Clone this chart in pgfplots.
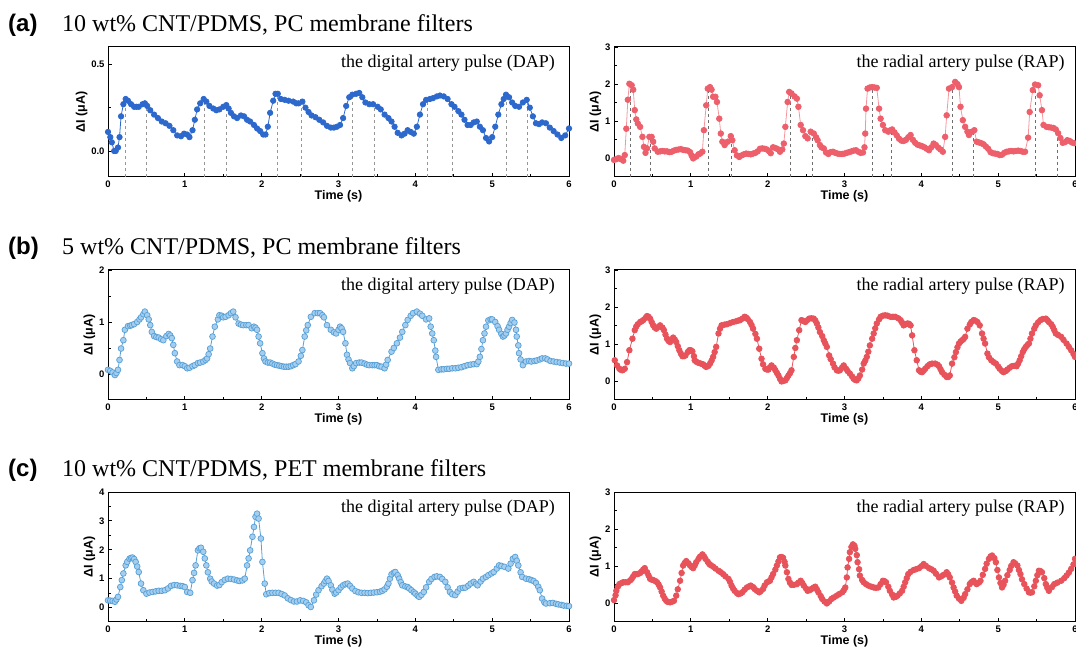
\documentclass[border=0pt]{standalone}
\usepackage{fontspec}
\setmainfont{Liberation Serif}
\newfontfamily\arial{Liberation Sans}
\usepackage{pgfplots}
\pgfplotsset{compat=1.18}

\definecolor{blueA}{RGB}{45,105,205}
\definecolor{redA}{RGB}{238,95,108}
\definecolor{redAline}{RGB}{245,150,158}
\definecolor{lblue}{RGB}{85,160,215}
\definecolor{lbluefill}{RGB}{165,205,238}
\definecolor{redB}{RGB}{232,82,90}
\definecolor{dashA}{RGB}{150,150,150}
\definecolor{dashB}{RGB}{110,110,110}

\tikzset{note/.style={anchor=base east, inner sep=0pt, font=\fontsize{18}{18}\selectfont}}
\pgfplotsset{panel/.style={
  scale only axis, width=461pt, height=130pt, anchor=south west,
  xmin=0, xmax=6, xtick={0,1,...,6}, minor x tick num=1, minor y tick num=1,
  tick align=inside, tick pos=left,
  axis line style={line width=1pt},
  every tick/.style={black, line width=0.8pt},
  major tick length=4pt, minor tick length=2.5pt,
  /pgf/number format/assume math mode=true,
  tick label style={font=\arial\bfseries\fontsize{9.5}{10}\selectfont},
  label style={font=\arial\bfseries\fontsize{12.5}{13}\selectfont},
  xlabel={Time (s)}, ylabel={ΔI (μA)},
  xlabel style={yshift=4pt}, ylabel style={yshift=-3pt},
},
dap/.style={lblue, line width=0.8pt, mark=*, mark size=2.9pt,
  mark options={fill=lbluefill, draw=lblue, line width=0.7pt}},
rap/.style={redB, line width=0.8pt, mark=*, mark size=2.8pt,
  mark options={fill=redB, draw=redB}},
guide/.style={dashed, line width=0.7pt, unbounded coords=jump, forget plot}}

\begin{document}
\begin{tikzpicture}
\useasboundingbox (0pt,0pt) rectangle (1076pt,655pt);

% titles
\node[anchor=base west, inner sep=0pt, font=\arial\bfseries\fontsize{24}{24}\selectfont] at (8pt,623pt) {(a)};
\node[anchor=base west, inner sep=0pt, font=\fontsize{24}{24}\selectfont] at (62pt,623pt) {10 wt\% CNT/PDMS, PC membrane filters};
\node[anchor=base west, inner sep=0pt, font=\arial\bfseries\fontsize{24}{24}\selectfont] at (8pt,400pt) {(b)};
\node[anchor=base west, inner sep=0pt, font=\fontsize{24}{24}\selectfont] at (62pt,400pt) {5 wt\% CNT/PDMS, PC membrane filters};
\node[anchor=base west, inner sep=0pt, font=\arial\bfseries\fontsize{24}{24}\selectfont] at (8pt,178pt) {(c)};
\node[anchor=base west, inner sep=0pt, font=\fontsize{24}{24}\selectfont] at (62pt,178pt) {10 wt\% CNT/PDMS, PET membrane filters};

% (a) DAP
\begin{axis}[panel, at={(108pt,478pt)}, ymin=-0.15, ymax=0.6, ytick={0,0.5},
  yticklabel style={/pgf/number format/.cd, fixed, fixed zerofill, precision=1}]
\addplot[guide, dashA] coordinates {(0.23,-0.15) (0.23,0.30) (0.23,nan) (0.50,-0.15) (0.50,0.27) (0.50,nan)
 (1.26,-0.15) (1.26,0.30) (1.26,nan) (1.54,-0.15) (1.54,0.265) (1.54,nan)
 (2.21,-0.15) (2.21,0.33) (2.21,nan) (2.52,-0.15) (2.52,0.28) (2.52,nan)
 (3.18,-0.15) (3.18,0.325) (3.18,nan) (3.47,-0.15) (3.47,0.27) (3.47,nan)
 (4.16,-0.15) (4.16,0.30) (4.16,nan) (4.48,-0.15) (4.48,0.27) (4.48,nan)
 (5.19,-0.15) (5.19,0.325) (5.19,nan) (5.46,-0.15) (5.46,0.29)};
\addplot[blueA, line width=0.8pt, mark=*, mark size=2.7pt, mark options={fill=blueA, draw=blueA}] coordinates {
(0.00,0.11) (0.03,0.08) (0.05,0.05) (0.08,0.00) (0.10,0.00) (0.13,0.02) (0.15,0.08) (0.17,0.20)
(0.20,0.27) (0.23,0.30) (0.26,0.29) (0.30,0.27) (0.34,0.255) (0.37,0.255) (0.40,0.255) (0.45,0.27)
(0.48,0.275) (0.51,0.26) (0.55,0.235) (0.60,0.21) (0.65,0.19) (0.70,0.17) (0.75,0.16) (0.80,0.145)
(0.85,0.12) (0.90,0.09) (0.95,0.085) (0.99,0.10) (1.03,0.095) (1.06,0.08) (1.10,0.12) (1.13,0.18)
(1.16,0.24) (1.20,0.275) (1.245,0.30) (1.28,0.285) (1.32,0.26) (1.37,0.245) (1.41,0.235) (1.45,0.24)
(1.50,0.255) (1.54,0.265) (1.57,0.245) (1.60,0.22) (1.64,0.20) (1.68,0.19) (1.73,0.205) (1.77,0.20)
(1.81,0.18) (1.85,0.17) (1.90,0.15) (1.94,0.13) (1.98,0.115) (2.02,0.095) (2.05,0.095) (2.08,0.14)
(2.11,0.22) (2.15,0.29) (2.18,0.33) (2.21,0.33) (2.25,0.30) (2.30,0.295) (2.35,0.29) (2.41,0.285)
(2.45,0.275) (2.48,0.275) (2.53,0.285) (2.57,0.25) (2.61,0.225) (2.65,0.205) (2.70,0.195) (2.75,0.18)
(2.80,0.165) (2.85,0.145) (2.90,0.135) (2.94,0.135) (2.98,0.14) (3.02,0.15) (3.06,0.19) (3.10,0.26)
(3.14,0.31) (3.18,0.325) (3.23,0.33) (3.27,0.335) (3.31,0.31) (3.35,0.28) (3.40,0.27) (3.45,0.27)
(3.51,0.255) (3.55,0.24) (3.60,0.21) (3.65,0.19) (3.69,0.17) (3.73,0.14) (3.77,0.105) (3.82,0.09)
(3.86,0.10) (3.90,0.12) (3.94,0.11) (3.98,0.10) (4.02,0.14) (4.06,0.21) (4.10,0.27) (4.14,0.295)
(4.19,0.30) (4.23,0.305) (4.28,0.315) (4.32,0.32) (4.37,0.315) (4.42,0.30) (4.47,0.27) (4.51,0.255)
(4.56,0.23) (4.60,0.21) (4.64,0.18) (4.68,0.15) (4.72,0.15) (4.76,0.165) (4.80,0.17) (4.84,0.14)
(4.88,0.12) (4.92,0.075) (4.96,0.055) (5.00,0.08) (5.04,0.14) (5.08,0.21) (5.12,0.27) (5.15,0.30)
(5.18,0.325) (5.22,0.31) (5.26,0.28) (5.30,0.26) (5.35,0.255) (5.40,0.28) (5.45,0.295) (5.49,0.25)
(5.53,0.20) (5.57,0.16) (5.61,0.155) (5.65,0.165) (5.70,0.16) (5.75,0.135) (5.80,0.115) (5.85,0.095)
(5.90,0.075) (5.95,0.09) (6.00,0.13)};
\node[note] at (rel axis cs:0.97,0.84) {the digital artery pulse (DAP)};
\end{axis}

% (a) RAP
\begin{axis}[panel, at={(614pt,478pt)}, ymin=-0.5, ymax=3, ytick={0,1,2,3}]
\addplot[guide, dashB] coordinates {(0.21,-0.5) (0.21,2.0) (0.21,nan) (0.47,-0.5) (0.47,0.58) (0.47,nan)
 (1.23,-0.5) (1.23,1.9) (1.23,nan) (1.53,-0.5) (1.53,0.6) (1.53,nan)
 (2.29,-0.5) (2.29,1.79) (2.29,nan) (2.58,-0.5) (2.58,0.72) (2.58,nan)
 (3.36,-0.5) (3.36,1.92) (3.36,nan) (3.61,-0.5) (3.61,0.78) (3.61,nan)
 (4.40,-0.5) (4.40,1.92) (4.40,nan) (4.68,-0.5) (4.68,0.76) (4.68,nan)
 (5.48,-0.5) (5.48,1.99) (5.48,nan) (5.77,-0.5) (5.77,0.76)};
\addplot[redAline, line width=0.8pt, mark=*, mark size=2.8pt, mark options={fill=redA, draw=redA}] coordinates {
(0.00,-0.04) (0.03,-0.02) (0.06,0.01) (0.09,-0.02) (0.12,-0.06) (0.14,0.09) (0.16,0.80) (0.18,1.58)
(0.20,2.01) (0.23,1.97) (0.25,1.85) (0.27,1.30) (0.29,1.05) (0.31,0.94) (0.34,0.85) (0.37,0.58)
(0.39,0.31) (0.41,0.15) (0.43,0.27) (0.46,0.58) (0.49,0.58) (0.51,0.45) (0.53,0.27) (0.57,0.18)
(0.60,0.19) (0.63,0.20) (0.66,0.19) (0.69,0.19) (0.72,0.17) (0.75,0.18) (0.78,0.21) (0.81,0.23)
(0.84,0.24) (0.87,0.25) (0.90,0.23) (0.93,0.22) (0.96,0.21) (0.99,0.17) (1.01,0.08) (1.03,0.00)
(1.07,0.05) (1.10,0.11) (1.12,0.13) (1.15,0.18) (1.17,0.76) (1.20,1.43) (1.22,1.88) (1.25,1.92)
(1.27,1.85) (1.29,1.66) (1.32,1.66) (1.34,1.52) (1.37,1.07) (1.39,0.67) (1.41,0.45) (1.44,0.36)
(1.48,0.45) (1.52,0.60) (1.54,0.49) (1.57,0.22) (1.60,0.08) (1.63,0.04) (1.66,0.08) (1.69,0.11)
(1.72,0.13) (1.75,0.12) (1.78,0.11) (1.81,0.13) (1.84,0.15) (1.87,0.19) (1.90,0.26) (1.93,0.27)
(1.96,0.26) (1.99,0.24) (2.02,0.19) (2.04,0.14) (2.07,0.30) (2.10,0.28) (2.13,0.25) (2.16,0.18)
(2.19,0.24) (2.21,0.40) (2.23,0.85) (2.26,1.52) (2.28,1.79) (2.31,1.75) (2.35,1.67) (2.38,1.61)
(2.40,1.39) (2.43,0.90) (2.46,0.76) (2.49,0.60) (2.52,0.54) (2.56,0.72) (2.60,0.67) (2.63,0.57)
(2.65,0.49) (2.68,0.36) (2.70,0.30) (2.73,0.27) (2.76,0.16) (2.79,0.12) (2.82,0.17) (2.85,0.18)
(2.88,0.15) (2.91,0.13) (2.94,0.12) (2.97,0.12) (3.00,0.13) (3.03,0.15) (3.06,0.17) (3.09,0.19)
(3.12,0.21) (3.15,0.22) (3.18,0.18) (3.21,0.15) (3.24,0.16) (3.26,0.30) (3.27,0.67) (3.28,1.34)
(3.30,1.88) (3.33,1.91) (3.36,1.92) (3.39,1.91) (3.42,1.90) (3.45,1.34) (3.47,1.07) (3.50,0.90)
(3.53,0.76) (3.57,0.72) (3.60,0.76) (3.62,0.78) (3.65,0.70) (3.68,0.62) (3.71,0.53) (3.74,0.48)
(3.77,0.47) (3.80,0.50) (3.83,0.57) (3.86,0.63) (3.89,0.50) (3.92,0.42) (3.95,0.37) (3.98,0.35)
(4.01,0.33) (4.04,0.30) (4.07,0.26) (4.10,0.22) (4.13,0.30) (4.16,0.40) (4.19,0.36) (4.22,0.29)
(4.25,0.24) (4.28,0.18) (4.31,0.58) (4.33,1.16) (4.36,1.88) (4.40,1.92) (4.44,2.06) (4.47,2.00)
(4.49,1.92) (4.51,1.39) (4.54,1.03) (4.57,0.85) (4.60,0.72) (4.62,0.63) (4.66,0.72) (4.69,0.76)
(4.72,0.45) (4.75,0.43) (4.78,0.41) (4.81,0.38) (4.84,0.32) (4.87,0.26) (4.90,0.17) (4.93,0.14)
(4.96,0.13) (4.99,0.12) (5.02,0.09) (5.05,0.10) (5.08,0.15) (5.11,0.18) (5.14,0.19) (5.17,0.20)
(5.20,0.19) (5.23,0.20) (5.26,0.21) (5.29,0.20) (5.32,0.18) (5.35,0.18) (5.39,0.56) (5.41,1.25)
(5.45,1.84) (5.48,1.99) (5.52,1.97) (5.54,1.70) (5.57,1.30) (5.59,0.90) (5.63,0.85) (5.66,0.84)
(5.69,0.83) (5.72,0.82) (5.75,0.78) (5.78,0.68) (5.81,0.55) (5.84,0.42) (5.87,0.44) (5.90,0.49)
(5.93,0.47) (5.96,0.43) (5.99,0.41)};
\node[note] at (rel axis cs:0.978,0.84) {the radial artery pulse (RAP)};
\end{axis}

% (b) DAP
\begin{axis}[panel, at={(108pt,255pt)}, ymin=-0.5, ymax=2, ytick={0,1,2}]
\addplot[dap] coordinates {
(0.00,0.08) (0.03,0.06) (0.06,0.03) (0.09,-0.02) (0.11,0.02) (0.13,0.08) (0.15,0.27) (0.17,0.49)
(0.20,0.65) (0.22,0.85) (0.26,0.92) (0.29,0.93) (0.31,0.94) (0.34,0.96) (0.38,1.00) (0.41,1.05)
(0.43,1.09) (0.46,1.15) (0.48,1.20) (0.51,1.13) (0.53,1.05) (0.55,0.94) (0.57,0.81) (0.60,0.73)
(0.63,0.71) (0.66,0.70) (0.69,0.67) (0.72,0.65) (0.76,0.73) (0.79,0.77) (0.81,0.74) (0.83,0.69)
(0.85,0.56) (0.87,0.40) (0.90,0.24) (0.93,0.17) (0.97,0.17) (1.00,0.15) (1.03,0.11) (1.06,0.12)
(1.10,0.15) (1.13,0.17) (1.17,0.21) (1.20,0.22) (1.24,0.24) (1.27,0.27) (1.29,0.30) (1.31,0.38)
(1.33,0.49) (1.36,0.72) (1.39,0.91) (1.43,1.05) (1.45,1.13) (1.48,1.12) (1.50,1.09) (1.53,1.10)
(1.57,1.13) (1.60,1.17) (1.63,1.20) (1.66,1.09) (1.70,0.97) (1.73,0.95) (1.76,0.94) (1.80,0.94)
(1.83,0.94) (1.87,0.88) (1.90,0.91) (1.92,0.89) (1.94,0.85) (1.96,0.72) (1.98,0.59) (2.01,0.40)
(2.03,0.30) (2.05,0.24) (2.08,0.22) (2.11,0.22) (2.14,0.20) (2.17,0.18) (2.20,0.17) (2.23,0.16)
(2.26,0.15) (2.29,0.14) (2.32,0.14) (2.35,0.14) (2.38,0.15) (2.41,0.17) (2.44,0.19) (2.48,0.24)
(2.51,0.35) (2.53,0.46) (2.56,0.72) (2.58,0.84) (2.60,0.94) (2.64,1.10) (2.69,1.17) (2.73,1.17)
(2.76,1.17) (2.79,1.13) (2.81,1.09) (2.85,0.94) (2.90,0.85) (2.94,0.80) (2.97,0.78) (3.00,0.85)
(3.02,0.91) (3.04,0.88) (3.06,0.81) (3.09,0.59) (3.11,0.37) (3.13,0.28) (3.15,0.21) (3.18,0.11)
(3.20,0.15) (3.23,0.21) (3.27,0.22) (3.30,0.22) (3.34,0.20) (3.37,0.18) (3.40,0.17) (3.44,0.17)
(3.47,0.17) (3.50,0.17) (3.53,0.15) (3.56,0.14) (3.60,0.11) (3.62,0.18) (3.64,0.27) (3.69,0.43)
(3.72,0.50) (3.76,0.59) (3.80,0.70) (3.83,0.81) (3.87,0.94) (3.90,1.04) (3.94,1.12) (3.97,1.17)
(4.02,1.20) (4.06,1.16) (4.09,1.12) (4.14,1.05) (4.18,1.07) (4.20,0.91) (4.22,0.78) (4.24,0.65)
(4.26,0.45) (4.27,0.33) (4.30,0.08) (4.34,0.09) (4.37,0.09) (4.41,0.10) (4.44,0.10) (4.48,0.11)
(4.52,0.11) (4.56,0.12) (4.60,0.13) (4.64,0.15) (4.68,0.17) (4.72,0.18) (4.76,0.19) (4.80,0.19)
(4.82,0.24) (4.84,0.33) (4.86,0.48) (4.88,0.65) (4.90,0.78) (4.92,0.91) (4.95,1.03) (4.98,1.05)
(5.00,1.05) (5.04,1.00) (5.07,0.92) (5.09,0.85) (5.12,0.77) (5.14,0.72) (5.16,0.74) (5.18,0.78)
(5.20,0.85) (5.22,0.91) (5.24,0.98) (5.26,1.04) (5.29,0.99) (5.31,0.85) (5.32,0.72) (5.34,0.55)
(5.35,0.40) (5.37,0.28) (5.40,0.17) (5.44,0.24) (5.48,0.25) (5.51,0.24) (5.55,0.25) (5.58,0.26)
(5.62,0.28) (5.65,0.30) (5.69,0.30) (5.72,0.28) (5.76,0.25) (5.80,0.24) (5.84,0.23) (5.88,0.22)
(5.92,0.21) (5.96,0.20) (6.00,0.20)};
\node[note] at (rel axis cs:0.97,0.84) {the digital artery pulse (DAP)};
\end{axis}

% (b) RAP
\begin{axis}[panel, at={(614pt,255pt)}, ymin=-0.5, ymax=3, ytick={0,1,2,3}]
\addplot[rap] coordinates {
(0.01,0.57) (0.04,0.43) (0.07,0.34) (0.09,0.31) (0.11,0.30) (0.14,0.34) (0.17,0.52) (0.20,0.84) (0.24,1.15)
(0.27,1.38) (0.29,1.48) (0.31,1.54) (0.34,1.60) (0.36,1.62) (0.38,1.65) (0.41,1.71) (0.43,1.76) (0.45,1.74) (0.47,1.69) (0.49,1.60) (0.51,1.51) (0.53,1.45) (0.55,1.42)
(0.58,1.47) (0.60,1.51) (0.63,1.45) (0.65,1.38) (0.67,1.26) (0.69,1.15) (0.71,1.09) (0.73,1.06) (0.75,1.13) (0.77,1.18) (0.79,1.13) (0.81,1.06) (0.83,0.95) (0.85,0.84) (0.87,0.75) (0.89,0.68)
(0.91,0.68) (0.93,0.70) (0.96,0.79) (0.98,0.84) (1.00,0.84) (1.02,0.81) (1.04,0.68) (1.05,0.57) (1.07,0.53) (1.10,0.50) (1.13,0.48) (1.16,0.46) (1.18,0.42) (1.20,0.39) (1.23,0.42)
(1.25,0.48) (1.27,0.56) (1.29,0.66) (1.31,0.79) (1.33,0.93) (1.36,1.29) (1.38,1.42) (1.40,1.51) (1.44,1.53) (1.47,1.54) (1.51,1.57)
(1.55,1.60) (1.59,1.62) (1.62,1.64) (1.64,1.65) (1.67,1.69) (1.70,1.74) (1.72,1.72) (1.74,1.68) (1.77,1.60) (1.79,1.52) (1.81,1.42) (1.84,1.28) (1.86,1.15) (1.89,0.88)
(1.92,0.61) (1.94,0.46) (1.97,0.34) (1.99,0.32) (2.01,0.32) (2.03,0.38) (2.05,0.43) (2.08,0.37) (2.10,0.30) (2.12,0.23) (2.14,0.16) (2.16,0.07) (2.18,0.00) (2.20,0.01) (2.23,0.03) (2.25,0.09)
(2.27,0.16) (2.29,0.22) (2.31,0.30) (2.34,0.66) (2.36,0.90) (2.38,1.11) (2.41,1.38) (2.44,1.65) (2.46,1.63) (2.49,1.60) (2.51,1.64) (2.54,1.69) (2.57,1.70)
(2.60,1.69) (2.62,1.64) (2.64,1.56) (2.66,1.45) (2.68,1.33) (2.71,1.22) (2.73,1.11) (2.75,1.02) (2.77,0.93) (2.80,0.70) (2.82,0.60) (2.85,0.48) (2.87,0.38) (2.90,0.30)
(2.92,0.29) (2.94,0.30) (2.97,0.38) (2.99,0.43) (3.02,0.34) (3.04,0.28) (3.07,0.21) (3.10,0.13) (3.12,0.07) (3.14,0.04) (3.16,0.03) (3.18,0.08) (3.20,0.16) (3.23,0.32) (3.25,0.48)
(3.27,0.56) (3.29,0.66) (3.31,0.80) (3.33,0.97) (3.36,1.15) (3.38,1.29) (3.40,1.43) (3.42,1.56) (3.45,1.67) (3.47,1.74) (3.50,1.77) (3.53,1.78) (3.56,1.77) (3.60,1.74) (3.63,1.74) (3.66,1.74)
(3.70,1.70) (3.73,1.65) (3.75,1.58) (3.77,1.51) (3.80,1.54) (3.82,1.56) (3.84,1.55) (3.86,1.51) (3.88,1.24) (3.91,0.84) (3.94,0.57) (3.97,0.30)
(3.99,0.26) (4.01,0.25) (4.03,0.29) (4.05,0.34) (4.08,0.41) (4.11,0.46) (4.14,0.48) (4.18,0.48) (4.21,0.45) (4.23,0.41) (4.25,0.33) (4.27,0.25) (4.30,0.18) (4.33,0.12) (4.35,0.12) (4.37,0.16)
(4.40,0.48) (4.43,0.65) (4.45,0.79) (4.47,0.92) (4.49,1.02) (4.51,1.07) (4.53,1.11) (4.55,1.14) (4.57,1.20) (4.60,1.42) (4.63,1.53) (4.65,1.60) (4.68,1.65) (4.70,1.64)
(4.73,1.60) (4.76,1.51) (4.79,1.29) (4.81,1.15) (4.83,1.02) (4.86,0.75) (4.88,0.65) (4.91,0.57) (4.94,0.52) (4.97,0.48) (5.00,0.40) (5.02,0.34) (5.05,0.28)
(5.07,0.25) (5.10,0.28) (5.12,0.32) (5.15,0.37) (5.18,0.41) (5.21,0.42) (5.24,0.41) (5.26,0.48) (5.28,0.57) (5.30,0.68) (5.32,0.79) (5.34,0.87) (5.36,0.93) (5.38,0.98) (5.40,1.02)
(5.42,1.15) (5.44,1.29) (5.47,1.42) (5.49,1.51) (5.52,1.59) (5.55,1.65) (5.58,1.68) (5.62,1.69) (5.64,1.65) (5.66,1.60) (5.69,1.54) (5.71,1.47) (5.73,1.38) (5.75,1.29) (5.78,1.25) (5.82,1.20)
(5.85,1.12) (5.89,1.02) (5.92,0.93) (5.95,0.84) (5.98,0.74) (6.00,0.66)};
\node[note] at (rel axis cs:0.978,0.84) {the radial artery pulse (RAP)};
\end{axis}

% (c) DAP
\begin{axis}[panel, at={(108pt,33pt)}, ymin=-0.5, ymax=4, ytick={0,1,2,3,4}]
\addplot[dap] coordinates {
(0.00,0.25) (0.03,0.24) (0.06,0.23) (0.09,0.20) (0.11,0.28) (0.13,0.37) (0.16,0.71) (0.18,0.95) (0.20,1.18)
(0.23,1.46) (0.25,1.58) (0.28,1.69) (0.30,1.72) (0.32,1.73) (0.34,1.68) (0.36,1.58) (0.38,1.42) (0.40,1.23) (0.43,0.83) (0.46,0.60) (0.50,0.48)
(0.54,0.52) (0.58,0.54) (0.62,0.56) (0.66,0.58) (0.70,0.58) (0.74,0.60) (0.78,0.66) (0.82,0.75)
(0.86,0.78) (0.90,0.77) (0.94,0.75) (0.97,0.74) (1.00,0.71) (1.03,0.54) (1.07,0.51) (1.10,0.95)
(1.12,1.20) (1.14,1.46) (1.17,1.98) (1.19,2.05) (1.21,2.07) (1.24,1.93) (1.26,1.70) (1.28,1.46) (1.30,1.22) (1.33,1.00) (1.35,0.90) (1.38,0.83) (1.42,0.76)
(1.45,0.78) (1.48,0.88) (1.52,0.96) (1.56,1.00) (1.60,0.99) (1.64,0.97) (1.68,0.94) (1.71,0.92)
(1.75,0.94) (1.78,1.00) (1.81,1.46) (1.83,1.70) (1.85,1.98) (1.88,2.45) (1.90,2.79) (1.92,3.14) (1.94,3.25)
(1.96,3.08) (1.99,2.39) (2.01,1.58) (2.04,0.83) (2.06,0.46) (2.10,0.50) (2.14,0.51) (2.18,0.51)
(2.22,0.51) (2.26,0.47) (2.30,0.42) (2.34,0.32) (2.38,0.26) (2.42,0.21) (2.46,0.21) (2.50,0.25)
(2.54,0.23) (2.58,0.18) (2.61,0.08) (2.64,0.02) (2.68,0.25) (2.71,0.45) (2.74,0.60) (2.78,0.74)
(2.81,0.83) (2.83,0.92) (2.85,1.00) (2.87,0.92) (2.90,0.77) (2.92,0.62) (2.95,0.48) (2.97,0.52) (3.00,0.60) (3.03,0.70) (3.06,0.77) (3.09,0.81) (3.12,0.83) (3.15,0.75) (3.18,0.66)
(3.22,0.57) (3.26,0.53) (3.30,0.51) (3.34,0.51) (3.38,0.50) (3.42,0.51) (3.46,0.52) (3.50,0.53)
(3.54,0.55) (3.57,0.58) (3.60,0.63) (3.63,0.72) (3.65,0.83) (3.67,1.00) (3.69,1.15) (3.72,1.21) (3.74,1.23) (3.77,1.12) (3.79,1.00) (3.81,0.88) (3.83,0.77)
(3.87,0.73) (3.90,0.71) (3.92,0.66) (3.95,0.60) (3.98,0.53) (4.00,0.48) (4.03,0.41) (4.05,0.37) (4.08,0.44) (4.11,0.54) (4.14,0.70) (4.18,0.89) (4.21,0.99) (4.25,1.06)
(4.28,1.08) (4.32,1.06) (4.35,0.99) (4.39,0.89) (4.42,0.70) (4.45,0.54) (4.48,0.46) (4.52,0.43) (4.55,0.55) (4.58,0.66) (4.62,0.68) (4.65,0.69) (4.69,0.76) (4.72,0.83) (4.76,0.89)
(4.79,0.82) (4.81,0.77) (4.85,0.90) (4.88,1.00) (4.92,1.06) (4.95,1.12) (4.99,1.18) (5.02,1.23) (5.06,1.35) (5.09,1.46) (5.12,1.44) (5.16,1.41) (5.21,1.35) (5.24,1.52) (5.27,1.69)
(5.30,1.75) (5.32,1.62) (5.34,1.46) (5.37,1.22) (5.39,1.06) (5.44,1.00) (5.48,0.98) (5.51,0.95) (5.54,0.92) (5.57,0.85) (5.60,0.72) (5.62,0.60) (5.65,0.31)
(5.68,0.18) (5.70,0.14) (5.75,0.15) (5.79,0.16) (5.83,0.13) (5.86,0.11) (5.90,0.09) (5.93,0.07) (5.97,0.06) (6.00,0.05)};
\node[note] at (rel axis cs:0.97,0.84) {the digital artery pulse (DAP)};
\end{axis}

% (c) RAP
\begin{axis}[panel, at={(614pt,33pt)}, ymin=-0.5, ymax=3, ytick={0,1,2,3}]
\addplot[rap] coordinates {
(0.00,0.09) (0.02,0.22) (0.03,0.34) (0.05,0.45) (0.07,0.52) (0.10,0.55) (0.12,0.57) (0.15,0.57) (0.18,0.57) (0.21,0.62) (0.23,0.66) (0.25,0.73) (0.27,0.79) (0.29,0.79) (0.31,0.79)
(0.34,0.82) (0.36,0.86) (0.38,0.91) (0.40,0.95) (0.43,0.84) (0.45,0.75) (0.47,0.66) (0.49,0.64) (0.51,0.63) (0.54,0.60) (0.56,0.57) (0.58,0.51) (0.60,0.43) (0.62,0.32) (0.64,0.21)
(0.66,0.13) (0.68,0.07) (0.70,0.04) (0.73,0.03) (0.76,0.05) (0.78,0.07) (0.81,0.21) (0.83,0.38) (0.86,0.61) (0.88,0.82) (0.90,1.02) (0.92,1.09) (0.94,1.14) (0.97,1.08) (0.99,1.02)
(1.01,0.98) (1.03,0.95) (1.05,1.02) (1.07,1.11) (1.10,1.20) (1.12,1.26) (1.15,1.32) (1.17,1.27) (1.19,1.20) (1.22,1.12) (1.24,1.06) (1.26,1.03) (1.29,0.99) (1.32,0.94) (1.36,0.88)
(1.39,0.84) (1.42,0.79) (1.45,0.73) (1.49,0.66) (1.51,0.58) (1.53,0.48) (1.55,0.40) (1.57,0.34) (1.60,0.28) (1.62,0.25) (1.65,0.27) (1.67,0.30) (1.70,0.37) (1.73,0.43) (1.76,0.46) (1.78,0.48)
(1.81,0.44) (1.83,0.39) (1.86,0.34) (1.89,0.30) (1.91,0.33) (1.94,0.39) (1.96,0.48) (1.99,0.57) (2.01,0.59) (2.03,0.61) (2.05,0.70) (2.07,0.79) (2.10,0.91) (2.12,1.02) (2.14,1.13) (2.16,1.24)
(2.18,1.25) (2.20,1.23) (2.22,1.12) (2.23,1.02) (2.25,0.84) (2.27,0.66) (2.29,0.56) (2.31,0.50) (2.34,0.50) (2.38,0.52) (2.40,0.56) (2.43,0.61) (2.45,0.55) (2.47,0.48) (2.50,0.40) (2.52,0.34)
(2.55,0.36) (2.57,0.39) (2.60,0.43) (2.62,0.45) (2.64,0.38) (2.66,0.30) (2.69,0.20) (2.71,0.12) (2.74,0.05) (2.77,0.00) (2.80,0.05) (2.83,0.12) (2.86,0.16) (2.90,0.21) (2.93,0.25) (2.97,0.30)
(2.99,0.35) (3.01,0.43) (3.03,0.70) (3.04,0.97) (3.06,1.20) (3.07,1.38) (3.09,1.52) (3.11,1.59) (3.13,1.55) (3.14,1.47) (3.16,1.30) (3.17,1.11) (3.19,0.92) (3.20,0.75) (3.23,0.63) (3.25,0.57)
(3.28,0.52) (3.31,0.48) (3.35,0.45) (3.38,0.43) (3.41,0.42) (3.44,0.43) (3.47,0.52) (3.50,0.61) (3.52,0.60) (3.54,0.57) (3.57,0.45) (3.59,0.34) (3.62,0.24) (3.64,0.16) (3.67,0.18) (3.69,0.21)
(3.72,0.27) (3.75,0.34) (3.77,0.45) (3.79,0.57) (3.81,0.68) (3.83,0.79) (3.86,0.85) (3.90,0.90) (3.93,0.92) (3.97,0.95) (4.00,1.00) (4.03,1.06) (4.06,1.01) (4.10,0.95) (4.13,0.92) (4.16,0.88)
(4.19,0.80) (4.23,0.70) (4.26,0.73) (4.29,0.77) (4.33,0.84) (4.35,0.78) (4.37,0.70) (4.40,0.56) (4.42,0.43) (4.44,0.32) (4.46,0.21) (4.49,0.13) (4.52,0.07) (4.55,0.15) (4.57,0.25) (4.60,0.38)
(4.63,0.52) (4.65,0.57) (4.68,0.61) (4.70,0.56) (4.72,0.52) (4.75,0.56) (4.77,0.61) (4.80,0.77) (4.83,0.93) (4.85,1.07) (4.88,1.20) (4.90,1.26) (4.92,1.29) (4.95,1.22) (4.97,1.11) (4.99,0.90)
(5.01,0.70) (5.03,0.55) (5.05,0.43) (5.07,0.50) (5.09,0.61) (5.12,0.76) (5.15,0.90) (5.17,1.01) (5.20,1.11) (5.22,1.08) (5.25,1.02) (5.27,0.90) (5.29,0.79) (5.31,0.65) (5.34,0.52) (5.37,0.40)
(5.40,0.30) (5.42,0.29) (5.44,0.30) (5.47,0.46) (5.49,0.61) (5.51,0.76) (5.53,0.88) (5.55,0.87) (5.57,0.84) (5.60,0.68) (5.62,0.52) (5.64,0.42) (5.66,0.34) (5.70,0.44) (5.73,0.52)
(5.77,0.56) (5.82,0.61) (5.86,0.68) (5.89,0.75) (5.92,0.83) (5.95,0.93) (5.98,1.05) (6.00,1.20)};
\node[note] at (rel axis cs:0.978,0.84) {the radial artery pulse (RAP)};
\end{axis}
\end{tikzpicture}
\end{document}
